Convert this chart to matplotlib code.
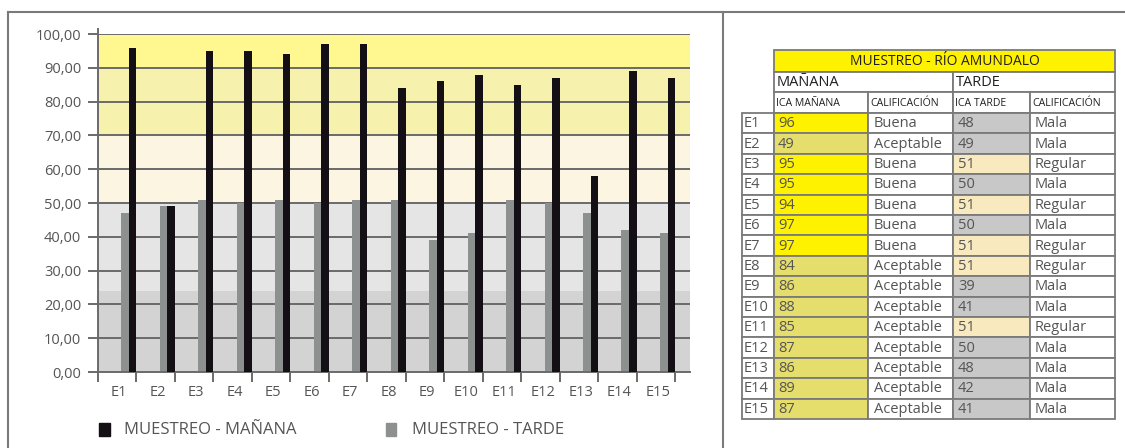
import numpy as np
import matplotlib
matplotlib.use('Agg')
import matplotlib.pyplot as plt
from matplotlib.patches import Rectangle

plt.rcParams['font.family'] = ['Open Sans', 'DejaVu Sans']

# datos del grafico
estaciones = ['E1', 'E2', 'E3', 'E4', 'E5', 'E6', 'E7', 'E8', 'E9', 'E10',
              'E11', 'E12', 'E13', 'E14', 'E15']
manana = [96, 49, 95, 95, 94, 97, 97, 84, 86, 88, 85, 87, 58, 89, 87]
tarde = [47, 49, 51, 50, 51, 50, 51, 51, 39, 41, 51, 50, 47, 42, 41]
yticks = [0, 10, 20, 30, 40, 50, 60, 70, 80, 90, 100]

# datos de la tabla
ica_man = [96, 49, 95, 95, 94, 97, 97, 84, 86, 88, 85, 87, 86, 89, 87]
cal_man = ['Buena', 'Aceptable', 'Buena', 'Buena', 'Buena', 'Buena', 'Buena',
           'Aceptable', 'Aceptable', 'Aceptable', 'Aceptable', 'Aceptable',
           'Aceptable', 'Aceptable', 'Aceptable']
ica_tar = [48, 49, 51, 50, 51, 50, 51, 51, 39, 41, 51, 50, 48, 42, 41]
cal_tar = ['Mala', 'Mala', 'Regular', 'Mala', 'Regular', 'Mala', 'Regular',
           'Regular', 'Mala', 'Mala', 'Regular', 'Mala', 'Mala', 'Mala', 'Mala']

W, H = 1125, 448
fig = plt.figure(figsize=(W/100, H/100), dpi=100)

# ---- grafico de barras ----
ax = fig.add_axes([98/W, 1-372/H, (690-98)/W, (372-34)/H])
ax.axhspan(0, 24, color='#d3d3d3', lw=0, zorder=0)
ax.axhspan(24, 50, color='#e5e5e5', lw=0, zorder=0)
ax.axhspan(50, 70, color='#fbf5e2', lw=0, zorder=0)
ax.axhspan(70, 90, color='#f6f1ad', lw=0, zorder=0)
ax.axhspan(90, 100, color='#fff78f', lw=0, zorder=0)
for v in yticks[1:]:
    ax.axhline(v, color='#6a6a6a', lw=1.4, zorder=1)

x = np.arange(len(estaciones))
ax.bar(x + 0.6, tarde, width=0.21, align='edge', color='#8c908f', zorder=2)
ax.bar(x + 0.8, manana, width=0.2, align='edge', color='#140f14', zorder=3)

ax.set_xlim(0, 15.38)
ax.set_ylim(0, 100)
ax.set_yticks(yticks)
ax.set_yticklabels(['%d,00' % v for v in yticks], fontsize=10.5, color='#555555')
ax.set_xticks(np.arange(16))
ax.set_xticklabels([])
ax.set_xticks(x + 0.55, minor=True)
ax.set_xticklabels(estaciones, minor=True, fontsize=10.5, color='#555555')
ax.tick_params(axis='x', which='major', length=7.5, width=1.4, color='#6a6a6a')
ax.tick_params(axis='x', which='minor', length=0, pad=9)
ax.tick_params(axis='y', length=7, width=1.4, color='#6a6a6a', pad=5)
for s in ['top', 'right']:
    ax.spines[s].set_visible(False)
ax.spines['left'].set_color('#6a6a6a')
ax.spines['left'].set_linewidth(1.4)
ax.spines['left'].set_bounds(0, 101.5)
ax.spines['bottom'].set_color('#6a6a6a')
ax.spines['bottom'].set_linewidth(1.4)

# ---- capa en pixeles para marco, leyenda y tabla ----
ov = fig.add_axes([0, 0, 1, 1])
ov.set_xlim(0, W)
ov.set_ylim(H, 0)
ov.axis('off')

marco = '#7a7a7a'
ov.plot([8, W], [12.5, 12.5], color=marco, lw=1.5)
ov.plot([8, 8], [12.5, H], color=marco, lw=1.5)
ov.plot([723, 723], [12.5, H], color=marco, lw=1.5)

# leyenda
ov.add_patch(Rectangle((99, 423), 11, 13, color='#140f14'))
ov.text(124, 430, 'MUESTREO - MAÑANA', fontsize=12, color='#555555', va='center')
ov.add_patch(Rectangle((386, 423), 10, 13, color='#8c908f'))
ov.text(412, 430, 'MUESTREO - TARDE', fontsize=12, color='#555555', va='center')

# tabla
borde = '#7a7a7a'
cols = [742, 774, 868, 953, 1030, 1115]
y0, rh = 113, 20.4
def celda(x1, y1, x2, y2, fc):
    ov.add_patch(Rectangle((x1, y1), x2 - x1, y2 - y1, facecolor=fc,
                           edgecolor=borde, lw=1.3))

celda(774, 50, 1115, 72, '#fff200')
ov.text((774 + 1115) / 2, 61.5, 'MUESTREO - RÍO AMUNDALO', fontsize=10,
        color='#231f20', ha='center', va='center')
celda(774, 72, 953, 92, 'white')
celda(953, 72, 1115, 92, 'white')
ov.text(777, 82.5, 'MAÑANA', fontsize=10.5, color='#231f20', va='center')
ov.text(956, 82.5, 'TARDE', fontsize=10.5, color='#231f20', va='center')
subs = ['ICA MAÑANA', 'CALIFICACIÓN', 'ICA TARDE', 'CALIFICACIÓN']
for j, t in enumerate(subs):
    celda(cols[j + 1], 92, cols[j + 2], y0, 'white')
    ov.text(cols[j + 1] + 2, 103, t, fontsize=7.6, color='#231f20', va='center')

for i in range(len(estaciones)):
    ya, yb = y0 + i * rh, y0 + (i + 1) * rh
    yc = (ya + yb) / 2 + 0.5
    fm = '#fff200' if cal_man[i] == 'Buena' else '#e6de6c'
    ft = '#f8e9bf' if cal_tar[i] == 'Regular' else '#c8c8c8'
    celda(cols[0], ya, cols[1], yb, 'white')
    celda(cols[1], ya, cols[2], yb, fm)
    celda(cols[2], ya, cols[3], yb, 'white')
    celda(cols[3], ya, cols[4], yb, ft)
    celda(cols[4], ya, cols[5], yb, 'white')
    ov.text(744, yc, estaciones[i], fontsize=10.5, color='#555555', va='center')
    ov.text(778, yc, str(ica_man[i]), fontsize=10.5, color='#555555', va='center')
    ov.text(874, yc, cal_man[i], fontsize=10.5, color='#555555', va='center')
    ov.text(958, yc, str(ica_tar[i]), fontsize=10.5, color='#555555', va='center')
    ov.text(1035, yc, cal_tar[i], fontsize=10.5, color='#555555', va='center')

fig.savefig('out.png', dpi=100)
